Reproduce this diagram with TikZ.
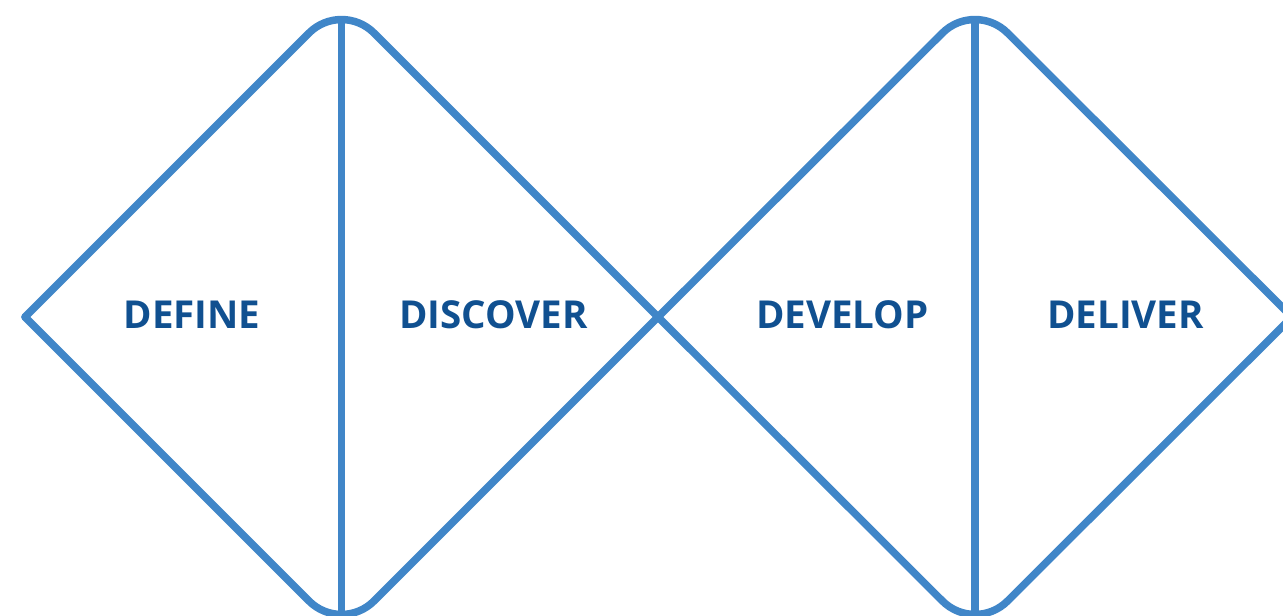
\documentclass[tikz,border=0pt]{standalone}
\usepackage{fontspec}
\setmainfont{Open Sans}
\definecolor{diamondblue}{RGB}{64,134,200}
\definecolor{labelblue}{RGB}{16,80,144}
\begin{document}
\begin{tikzpicture}[x=1pt,y=-1pt,
  diamondline/.style={draw=diamondblue, line width=7.5pt, line join=round, line cap=round, rounded corners=46pt},
  divider/.style={draw=diamondblue, line width=7.5pt},
  phase/.style={text=labelblue, font=\fontsize{38.5}{40}\selectfont\bfseries, inner sep=0pt, anchor=base}]
\useasboundingbox (0,0) rectangle (1283,616);
\clip (0,0) rectangle (1283,616);
% corner points of the two diamonds
\coordinate (L1) at (25,317);
\coordinate (T1) at (341.5,0.5);
\coordinate (B1) at (341.5,633.5);
\coordinate (X) at (658,317);
\coordinate (T2) at (975,0.5);
\coordinate (B2) at (975,633.5);
\coordinate (R2) at (1292,317);
% ends of the dividing lines
\coordinate (D1t) at (341.5,19.5);
\coordinate (D1b) at (341.5,614.5);
\coordinate (D2t) at (975,19.5);
\coordinate (D2b) at (975,614.5);
% first diamond
\draw[diamondline] (L1) -- (T1) -- (X);
\draw[diamondline] (L1) -- (B1) -- (X);
\draw[divider] (D1t) -- (D1b);
% second diamond
\draw[diamondline] (X) -- (T2) -- (R2);
\draw[diamondline] (X) -- (B2) -- (R2);
\draw[divider] (D2t) -- (D2b);
% phase labels
\node[phase] (define) at (192,328) {DEFINE};
\node[phase] (discover) at (493.5,328) {DISCOVER};
\node[phase] (develop) at (842.5,328) {DEVELOP};
\node[phase] (deliver) at (1125.5,328) {DELIVER};
\end{tikzpicture}
\end{document}
